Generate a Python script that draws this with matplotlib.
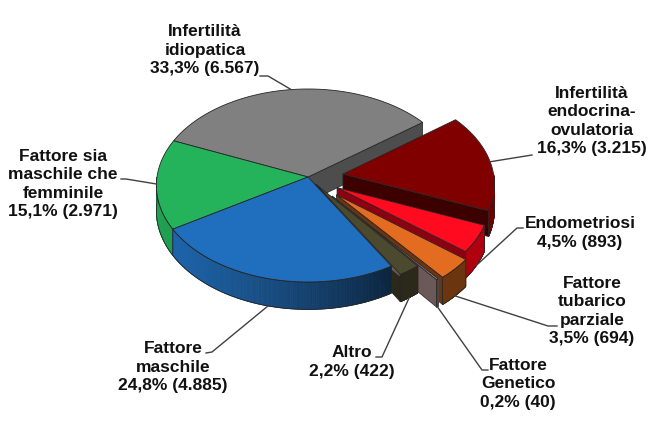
import numpy as np
import matplotlib
matplotlib.use('Agg')
import matplotlib.pyplot as plt
from matplotlib.patches import Polygon

# Data (clockwise from the top-left edge of the grey slice)
labels = ['Infertilità\nidiopatica', 'Infertilità\nendocrina-\novulatoria', 'Endometriosi',
          'Fattore\ntubarico\nparziale', 'Fattore\nGenetico', 'Altro', 'Fattore\nmaschile',
          'Fattore sia\nmaschile che\nfemminile']
counts = [6567, 3215, 893, 694, 40, 422, 4885, 2971]
percents = ['33,3%', '16,3%', '4,5%', '3,5%', '0,2%', '2,2%', '24,8%', '15,1%']
explode = [0, 0.234, 0.22, 0.26, 0.25, 0.09, 0, 0]

# Styles
top_colors = ['#808080', '#800000', '#ff0a1e', '#e46c20', '#a89090', '#4c4a2e', '#1f6fbe', '#24b35a']
rim_colors = ['#606060', '#6e0000', '#b0000f', '#6b3510', '#6b5858', '#2a291a', '#1f66ad', '#20a050']
cut_colors = ['#4d4d4d', '#3c0000', '#8c0012', '#6b3510', '#6b5858', '#2a291a', '#184f86', '#1c8a45']
rim_gradient = [False, False, False, False, False, False, True, True]

# Label layout (pixel coords): text centre, leader start, elbow
label_pos = [(205, 50), (592, 121), (580, 233), (592, 311), (518, 384), (352, 362), (173, 367), (63, 184)]
leader_pts = [[(260, 76), (268, 76)], [(532, 155)], [(523, 228), (517, 228)], [(557, 326), (548, 326)],
              [(488, 370), (482, 370)], [(376, 357), (382, 357)], [(206, 353), (212, 352)],
              [(121, 179), (126, 179)]]

START = 157.0
cx, cy = 308, 177
RX, RY, DEPTH, PERSP = 151, 95.75, 25, 0.088
EDGE = '#262626'


def proj(X, Y, z):
    w = 1 + PERSP * Y
    return cx + RX * X / w, cy + (-RY * Y + DEPTH * z) / w


def shade(hexcol, f):
    c = np.array(matplotlib.colors.to_rgb(hexcol)) * f
    return tuple(np.clip(c, 0, 1))


fig = plt.figure(figsize=(6.72, 4.30), dpi=100)
ax = fig.add_axes([0, 0, 1, 1])
ax.set_xlim(0, 672)
ax.set_ylim(430, 0)
ax.axis('off')

total = sum(counts)
spans = [c / total * 360 for c in counts]
bounds = START - np.concatenate([[0], np.cumsum(spans)])

sides = []   # (depth, item)
tops = []
anchors = []

for i in range(len(counts)):
    t1, t2 = np.radians(bounds[i]), np.radians(bounds[i + 1])
    mid = (t1 + t2) / 2
    ox, oy = explode[i] * np.cos(mid), explode[i] * np.sin(mid)
    n = max(3, int(abs(bounds[i] - bounds[i + 1])) + 2)
    ts = np.linspace(t1, t2, n)
    arc_top = [proj(ox + np.cos(t), oy + np.sin(t), 0) for t in ts]
    apex0 = proj(ox, oy, 0)
    apex1 = proj(ox, oy, 1)

    tops.append((oy + 0.6 * np.sin(mid), [apex0] + arc_top, top_colors[i]))

    # rim, only the part facing the viewer
    seg = np.linspace(t1, t2, 200)
    seg = seg[np.sin(seg) < 0]
    if len(seg) > 1:
        quads = []
        cols = []
        for j in range(len(seg) - 1):
            a, b = seg[j], seg[j + 1]
            q = [proj(ox + np.cos(a), oy + np.sin(a), 0), proj(ox + np.cos(b), oy + np.sin(b), 0),
                 proj(ox + np.cos(b), oy + np.sin(b), 1), proj(ox + np.cos(a), oy + np.sin(a), 1)]
            quads.append(q)
            if rim_gradient[i]:
                f = 0.5 + 0.5 * np.cos((a + b) / 2 - np.radians(195))
                cols.append(shade(rim_colors[i], max(f, 0.3)))
            else:
                cols.append(rim_colors[i])
        outline = [proj(ox + np.cos(a), oy + np.sin(a), 0) for a in seg] + \
                  [proj(ox + np.cos(a), oy + np.sin(a), 1) for a in seg[::-1]]
        d = oy + np.sin(seg[len(seg) // 2])
        sides.append((d, ('rim', quads, cols, outline)))

    # radial cut faces
    nprev = (i - 1) % len(counts)
    nnext = (i + 1) % len(counts)
    for t, normal, nb in [(t1, t1 + np.pi / 2, nprev), (t2, t2 - np.pi / 2, nnext)]:
        if np.sin(normal) >= 0:
            continue
        if explode[i] == 0 and explode[nb] == 0:
            continue
        q = [apex0, proj(ox + np.cos(t), oy + np.sin(t), 0),
             proj(ox + np.cos(t), oy + np.sin(t), 1), apex1]
        d = oy + 0.5 * np.sin(t)
        sides.append((d, ('face', q, cut_colors[i])))

    # leader anchor on the slice edge
    if np.sin(mid) < -0.3:
        anchors.append(proj(ox + np.cos(mid), oy + np.sin(mid), 1))
    else:
        anchors.append(proj(ox + np.cos(mid), oy + np.sin(mid), 0))

z = 1
for d, item in sorted(sides, key=lambda s: -s[0]):
    if item[0] == 'rim':
        _, quads, cols, outline = item
        for q, c in zip(quads, cols):
            ax.add_patch(Polygon(q, closed=True, facecolor=c, edgecolor=c, lw=0.6, zorder=z))
        z += 1
        ax.add_patch(Polygon(outline, closed=True, fill=False, edgecolor=EDGE, lw=0.6, zorder=z))
    else:
        _, q, c = item
        ax.add_patch(Polygon(q, closed=True, facecolor=c, edgecolor=EDGE, lw=0.5, zorder=z))
    z += 1

for d, pts, c in sorted(tops, key=lambda s: -s[0]):
    ax.add_patch(Polygon(pts, closed=True, facecolor=c, edgecolor=EDGE, lw=0.6, zorder=z))
    z += 1

# labels and leader lines
for i in range(len(counts)):
    txt = '%s\n%s (%s)' % (labels[i], percents[i], f'{counts[i]:,}'.replace(',', '.'))
    ax.text(label_pos[i][0], label_pos[i][1], txt, ha='center', va='center',
            fontsize=12.5, fontweight='bold', family='Liberation Sans', color='#111111',
            linespacing=1.27, zorder=z + 2)
    pts = leader_pts[i] + [anchors[i]]
    xs, ys = zip(*pts)
    ax.plot(xs, ys, color='#404040', lw=1.0, zorder=z + 1)

fig.savefig('out.png', dpi=100, facecolor='white')
